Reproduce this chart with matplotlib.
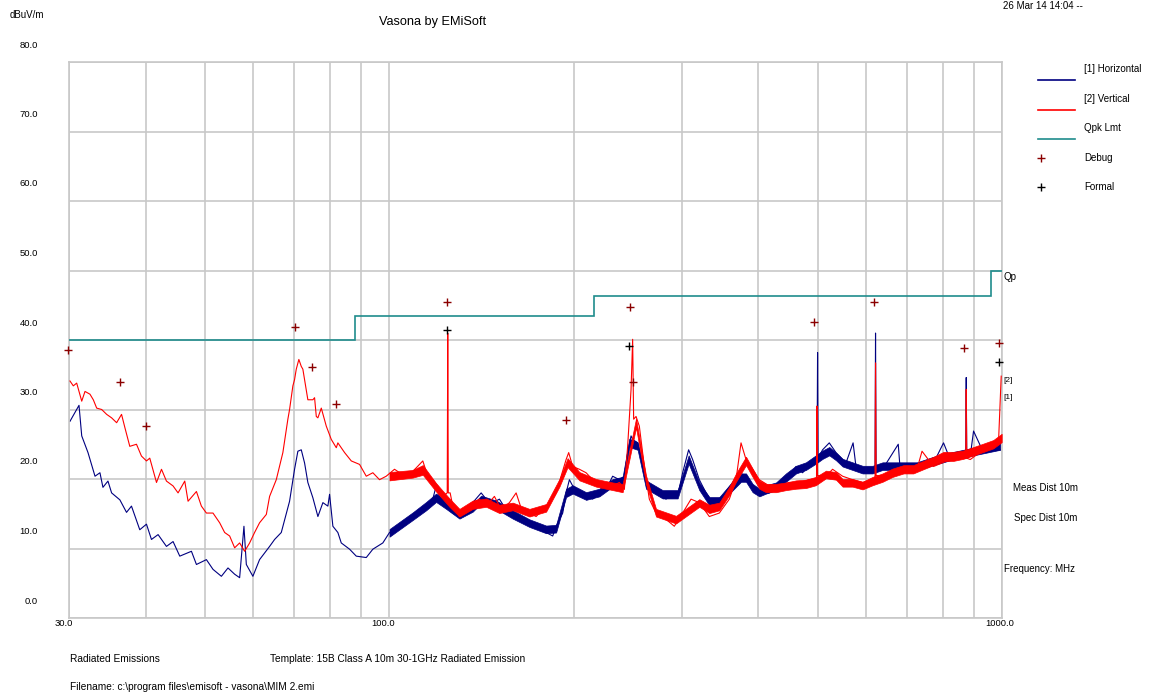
import matplotlib
matplotlib.use("Agg")
import matplotlib.pyplot as plt
from matplotlib.transforms import ScaledTranslation

plt.rcParams['font.family'] = ['Liberation Sans', 'DejaVu Sans']

# ---- data (MHz, dBuV/m) ----
h_freq = [30.11, 31.15, 31.47, 32.22, 33.08, 33.70, 34.08, 34.73, 35.21, 36.32,
          37.24, 37.94, 39.14, 40.14, 40.90, 41.93, 43.27, 44.36, 45.49, 47.53,
          48.43, 50.28, 51.54, 53.19, 54.53, 55.91, 56.97, 57.90, 58.42, 59.88,
          61.40, 63.76, 64.97, 66.62, 68.73, 70.03, 70.91, 71.82, 72.72, 73.62,
          75.02, 76.45, 77.90, 79.37, 79.88, 80.88, 82.41, 83.47, 86.12, 88.31,
          91.69, 93.99, 97.58, 100.06, 103.23, 106.55, 109.22, 112.0, 114.85, 117.73,
          119.24, 120.73, 123.80, 126.91, 130.15, 133.47, 136.82, 141.21, 143.88, 147.49,
          151.24, 155.09, 159.0, 163.05, 167.21, 171.4, 175.77, 180.25, 184.78, 187.15,
          191.85, 194.32, 196.74, 199.19, 204.27, 209.47, 214.73, 220.2, 225.81, 231.47,
          237.37, 241.87, 244.89, 248.04, 249.53, 254.26, 257.53, 262.41, 268.99, 275.85,
          282.87, 289.97, 295.46, 301.1, 307.97, 312.63, 320.6, 328.78, 337.03, 349.94,
          363.34, 372.6, 382.1, 391.69, 401.67, 417.06, 433.03, 449.6, 461.07, 472.65,
          487.8, 499.0, 500.0, 501.0, 509.5, 522.5, 535.8, 556.3, 571.4, 577.6,
          599.7, 620.5, 621.7, 623.0, 638.3, 677.1, 681.4, 726.4, 773.2, 802.7,
          823.2, 872.5, 874.2, 876.0, 887.5, 898.6, 932.9, 993.2]
h_level = [28.3, 30.6, 26.2, 23.8, 20.4, 20.9, 18.8, 19.7, 18.0, 17.0,
           15.2, 16.1, 12.7, 13.5, 11.3, 12.0, 10.3, 11.0, 8.9, 9.6,
           7.7, 8.4, 7.0, 6.0, 7.2, 6.3, 5.8, 13.2, 7.7, 6.0,
           8.4, 10.3, 11.3, 12.3, 16.8, 21.4, 24.0, 24.2, 22.3, 19.5,
           17.3, 14.6, 16.6, 16.1, 17.8, 13.2, 12.3, 10.8, 9.9, 8.9,
           8.7, 9.9, 10.8, 12.3, 13.0, 14.2, 14.9, 15.6, 16.1, 17.1,
           19.0, 17.5, 16.1, 15.1, 14.6, 15.6, 16.6, 18.0, 17.1, 16.6,
           17.1, 15.6, 15.1, 14.2, 13.7, 13.2, 12.7, 12.3, 11.8, 13.2,
           15.1, 18.0, 19.9, 19.0, 18.0, 17.5, 17.1, 18.0, 18.5, 20.4,
           19.9, 20.4, 23.8, 26.2, 25.7, 25.2, 23.3, 19.5, 19.0, 18.0,
           17.1, 18.0, 17.5, 20.9, 24.2, 22.8, 19.9, 18.0, 16.6, 17.5,
           19.5, 20.9, 20.4, 19.0, 18.0, 18.0, 19.0, 20.4, 21.8, 20.9,
           22.3, 22.5, 38.2, 23.0, 24.2, 25.2, 23.8, 22.3, 25.2, 21.8,
           21.4, 21.5, 41.0, 21.5, 21.4, 25.0, 21.8, 21.4, 22.3, 25.2,
           22.8, 23.0, 34.6, 23.0, 23.3, 26.9, 23.8, 24.2]

v_freq = [30.11, 30.49, 30.88, 31.47, 31.86, 32.46, 32.87, 33.29, 33.92, 34.56,
          35.21, 35.88, 36.55, 37.01, 37.70, 38.66, 39.39, 40.14, 40.64, 41.68,
          42.47, 43.27, 44.36, 45.20, 46.35, 46.93, 48.43, 49.34, 50.28, 51.54,
          52.85, 53.85, 54.87, 55.91, 56.97, 58.05, 59.15, 60.26, 61.40, 62.98,
          63.76, 65.38, 67.02, 68.29, 68.73, 69.59, 70.03, 70.48, 71.17, 71.82,
          72.25, 72.72, 73.62, 75.02, 75.50, 75.99, 76.45, 77.43, 78.90, 80.39,
          81.92, 82.41, 84.52, 86.67, 89.41, 91.69, 93.99, 96.38, 98.83, 101.96,
          105.19, 108.57, 110.62, 113.4, 115.54, 117.73, 119.96, 122.23, 124.3, 124.55,
          124.8, 125.68, 126.91, 130.15, 133.47, 136.82, 140.31, 143.88, 148.43, 152.21,
          157.03, 161.04, 165.09, 169.29, 173.6, 177.96, 182.5, 187.15, 190.7, 194.32,
          196.22, 199.19, 204.27, 209.47, 214.73, 220.2, 224.37, 231.47, 237.37, 241.87,
          244.89, 248.04, 249.53, 250.47, 252.74, 255.89, 260.74, 265.68, 272.45, 282.87,
          291.82, 301.1, 310.76, 320.6, 332.88, 345.63, 358.86, 368.01, 374.99, 382.1,
          391.69, 401.67, 417.06, 433.03, 449.6, 466.83, 484.7, 498.0, 498.9, 500.0,
          516.0, 529.0, 549.3, 570.3, 592.1, 620.5, 621.7, 623.0, 646.5, 681.4,
          726.4, 740.4, 773.2, 823.2, 872.5, 874.2, 876.0, 887.5, 932.9, 986.9,
          997.0]
v_level = [34.1, 33.4, 33.8, 31.2, 32.6, 32.2, 31.4, 30.2, 30.0, 29.3,
           28.8, 28.1, 29.3, 27.4, 24.7, 25.0, 23.3, 22.6, 23.0, 19.5,
           21.4, 19.7, 19.0, 18.0, 19.7, 16.8, 18.2, 16.1, 15.1, 15.1,
           13.7, 12.3, 11.8, 10.1, 10.8, 9.6, 10.8, 12.3, 13.7, 14.9,
           17.5, 19.9, 23.8, 28.6, 30.0, 33.4, 34.3, 35.8, 37.2, 36.2,
           35.8, 34.3, 31.4, 31.4, 31.7, 29.0, 28.8, 30.2, 27.6, 25.7,
           24.5, 25.2, 23.8, 22.6, 22.1, 20.4, 20.9, 19.9, 20.4, 21.4,
           20.6, 20.9, 21.6, 22.6, 20.4, 19.9, 19.0, 17.5, 18.0, 41.0,
           18.0, 18.0, 16.1, 14.6, 15.6, 16.6, 17.1, 16.1, 17.5, 15.6,
           16.6, 18.0, 15.1, 15.1, 14.6, 15.6, 16.6, 18.0, 20.4, 22.8,
           23.8, 21.8, 21.4, 20.9, 19.9, 19.5, 19.0, 19.0, 19.5, 18.5,
           24.7, 32.9, 40.1, 28.6, 29.0, 27.6, 21.8, 17.1, 15.1, 14.2,
           13.2, 15.1, 17.1, 16.6, 14.6, 15.1, 17.1, 19.9, 25.2, 22.8,
           21.4, 19.9, 19.0, 19.0, 19.5, 19.5, 19.9, 20.0, 30.5, 20.5,
           20.4, 21.4, 20.4, 19.9, 19.5, 20.0, 36.7, 20.5, 20.4, 20.9,
           21.4, 24.0, 21.8, 22.8, 23.0, 32.9, 23.0, 22.8, 24.2, 25.2,
           34.8]

# noise band (min / max) of the sweeps above 100 MHz
h_band_freq = [100.06, 109.2, 114.85, 119.2, 123.8, 130.15, 136.8, 141.2, 149.4, 159.0,
               169.3, 180.25, 187.15, 194.3, 199.2, 209.5, 220.2, 231.5, 240.3, 246.45,
               254.26, 262.4, 279.3, 295.5, 308.0, 320.6, 332.9, 345.6, 358.9, 375.0,
               382.1, 391.7, 401.7, 411.9, 427.7, 444.0, 461.1, 478.6, 496.7, 509.5,
               522.5, 535.8, 549.3, 570.3, 592.1, 614.8, 638.3, 681.4, 726.4, 773.2,
               823.2, 875.8, 932.9, 993.2]
h_band_lo = [11.7, 14.1, 15.5, 16.7, 15.7, 14.3, 15.3, 16.5, 15.7, 14.3,
             13.1, 12.2, 12.3, 17.4, 17.9, 17.0, 17.5, 18.9, 19.1, 24.6,
             24.2, 18.6, 17.2, 17.2, 22.2, 18.4, 16.2, 16.2, 17.9, 19.6,
             19.6, 18.1, 17.5, 17.9, 18.4, 19.6, 20.8, 21.3, 22.2, 22.9,
             23.4, 22.7, 21.8, 21.3, 20.8, 20.8, 21.3, 21.3, 21.3, 22.0,
             22.7, 23.2, 23.7, 24.2]
h_band_hi = [12.8, 15.2, 16.7, 17.9, 16.9, 15.5, 16.4, 17.6, 16.9, 15.5,
             14.2, 13.3, 13.4, 18.6, 19.1, 18.1, 18.6, 20.0, 20.3, 25.8,
             25.3, 19.8, 18.4, 18.4, 23.4, 19.5, 17.4, 17.4, 19.1, 20.8,
             20.8, 19.3, 18.6, 19.1, 19.5, 20.8, 21.9, 22.4, 23.4, 24.1,
             24.6, 23.8, 22.9, 22.4, 21.9, 21.9, 22.4, 22.4, 22.4, 23.2,
             23.8, 24.3, 24.8, 25.3]

v_band_freq = [100.06, 109.2, 113.4, 119.2, 125.35, 130.15, 136.8, 143.9, 151.2, 159.0,
               169.3, 180.25, 189.5, 195.4, 204.3, 217.5, 231.5, 240.3, 252.7, 262.4,
               272.45, 293.7, 320.6, 332.9, 345.6, 358.9, 368.0, 382.1, 391.7, 401.7,
               411.9, 427.7, 444.0, 461.1, 478.6, 496.7, 516.0, 535.8, 549.3, 570.3,
               592.1, 614.8, 638.3, 662.7, 690.8, 716.5, 744.0, 773.2, 802.7, 832.7,
               864.6, 898.6, 932.9, 967.6, 998.8]
v_band_lo = [19.8, 20.2, 20.6, 18.2, 16.0, 14.6, 15.7, 16.0, 15.1, 15.5,
             14.6, 15.3, 18.9, 21.7, 19.8, 18.9, 18.4, 18.1, 27.4, 19.3,
             14.6, 13.6, 16.0, 15.1, 15.5, 17.7, 19.6, 22.0, 20.3, 18.6,
             18.1, 18.1, 18.4, 18.6, 18.7, 19.1, 20.1, 19.9, 18.9, 18.9,
             18.5, 19.1, 19.6, 20.3, 20.8, 20.8, 21.4, 22.0, 22.6, 22.6,
             22.9, 23.4, 23.9, 24.4, 25.3]
v_band_hi = [21.0, 21.3, 22.0, 19.4, 17.2, 15.7, 16.9, 17.2, 16.3, 16.6,
             15.7, 16.4, 20.0, 23.0, 21.0, 20.0, 19.5, 19.3, 28.7, 20.5,
             15.7, 14.7, 17.1, 16.3, 16.6, 18.9, 20.8, 23.2, 21.5, 19.8,
             19.3, 19.3, 19.5, 19.8, 19.9, 20.3, 21.2, 21.0, 20.0, 20.0,
             19.6, 20.3, 20.8, 21.5, 22.0, 22.0, 22.6, 23.2, 23.9, 23.9,
             24.1, 24.6, 25.1, 25.6, 26.5]

lim_freq = [30, 88, 216, 960, 1000]
lim_level = [40.0, 43.5, 46.4, 50.0]

debug_freq = [29.9, 36.32, 40.03, 70.22, 74.66, 81.92, 124.08, 194.32, 246.73, 249.9,
              493.9, 617.1, 867.7, 989.5]
debug_level = [38.5, 33.9, 27.6, 41.8, 36.1, 30.8, 45.5, 28.5, 44.8, 34.0,
               42.6, 45.5, 38.9, 39.5]
formal_freq = [124.08, 246.45, 989.5]
formal_level = [41.4, 39.1, 36.8]

y_ticks = [0, 10, 20, 30, 40, 50, 60, 70, 80]
x_ticks = [30, 100, 1000]
x_minor = [40, 50, 60, 70, 80, 90, 200, 300, 400, 500, 600, 700, 800, 900]

c_h = '#000080'
c_v = '#ff0000'
c_lim = '#1f8c8c'
c_dbg = '#8b0000'
c_grid = '#c8c8c8'

W, H = 1152, 694
fig = plt.figure(figsize=(W / 100, H / 100), dpi=100)
ax = fig.add_axes([69 / W, 1 - 618 / H, 933 / W, 556 / H])

ax.set_xscale('log')
ax.set_xlim(30, 1000)
ax.set_ylim(0, 80)
ax.set_xticks(x_ticks)
ax.set_xticks(x_minor, minor=True)
ax.set_yticks(y_ticks)
ax.tick_params(which='both', length=0, labelbottom=False, labelleft=False)
ax.grid(True, which='both', color=c_grid, lw=1.2)
ax.set_axisbelow(True)
for s in ax.spines.values():
    s.set_color(c_grid)
    s.set_linewidth(1.2)

# traces
ax.fill_between(h_band_freq, h_band_lo, h_band_hi, color=c_h, lw=0.5, zorder=2)
ax.plot(h_freq, h_level, color=c_h, lw=0.8, zorder=2)
ax.fill_between(v_band_freq, v_band_lo, v_band_hi, color=c_v, lw=0.5, zorder=3)
ax.plot(v_freq, v_level, color=c_v, lw=0.8, zorder=3)
ax.stairs(lim_level, lim_freq, color=c_lim, lw=1.2, baseline=None, zorder=4)
ax.plot(debug_freq, debug_level, '+', color=c_dbg, ms=5.5, mew=1.0, zorder=5, clip_on=False)
ax.plot(formal_freq, formal_level, '+', color='black', ms=5.5, mew=1.0, zorder=5, clip_on=False)

fs = 7.0
# y labels sit a bit above their grid lines, like the original
ytr = ax.get_yaxis_transform() + ScaledTranslation(-0.31, 0.17, fig.dpi_scale_trans)
for v in y_ticks:
    ax.text(0, v, f'{v:.1f}', transform=ytr, ha='right', va='center', fontsize=6.8, clip_on=False)
xtr = ax.get_xaxis_transform()
for f, dx in zip(x_ticks, [-0.05, -0.06, -0.02]):
    ax.text(f, 0, f'{f:.1f}', fontsize=6.8, ha='center', va='center', clip_on=False,
            transform=xtr + ScaledTranslation(dx, -0.05, fig.dpi_scale_trans))

def ft(x, y, s, **kw):
    kw.setdefault('fontsize', fs)
    kw.setdefault('va', 'center')
    fig.text(x / W, 1 - y / H, s, **kw)

ft(10, 15, 'dBuV/m')
ft(433, 22, 'Vasona by EMiSoft', ha='center', fontsize=9.2)
ft(1003, 6, '26 Mar 14 14:04 --')

# legend on the right
leg = [('[1] Horizontal', c_h, 80), ('[2] Vertical', c_v, 110), ('Qpk Lmt', c_lim, 139)]
for lab, col, yy in leg:
    fig.add_artist(plt.Line2D([1038 / W, 1075 / W], [1 - yy / H] * 2, color=col, lw=1.2))
    ft(1084, yy - 11, lab)
for lab, col, yy in [('Debug', c_dbg, 158), ('Formal', 'black', 187)]:
    fig.add_artist(plt.Line2D([1041 / W], [1 - yy / H], marker='+', color=col, ms=5.5, mew=1.0))
    ft(1084, yy, lab)

ft(1003, 277, 'Qp')
ft(1003, 381, '[2]', fontsize=6)
ft(1003, 398, '[1]', fontsize=6)
ft(1013, 488, 'Meas Dist 10m')
ft(1014, 518, 'Spec Dist 10m')
ft(1004, 569, 'Frequency: MHz')

ft(70, 659, 'Radiated Emissions', fontsize=7.3)
ft(270, 659, 'Template: 15B Class A 10m 30-1GHz Radiated Emission', fontsize=7.3)
ft(70, 687, 'Filename: c:\\program files\\emisoft - vasona\\MIM 2.emi', fontsize=7.3)

fig.savefig('out.png', dpi=100)
